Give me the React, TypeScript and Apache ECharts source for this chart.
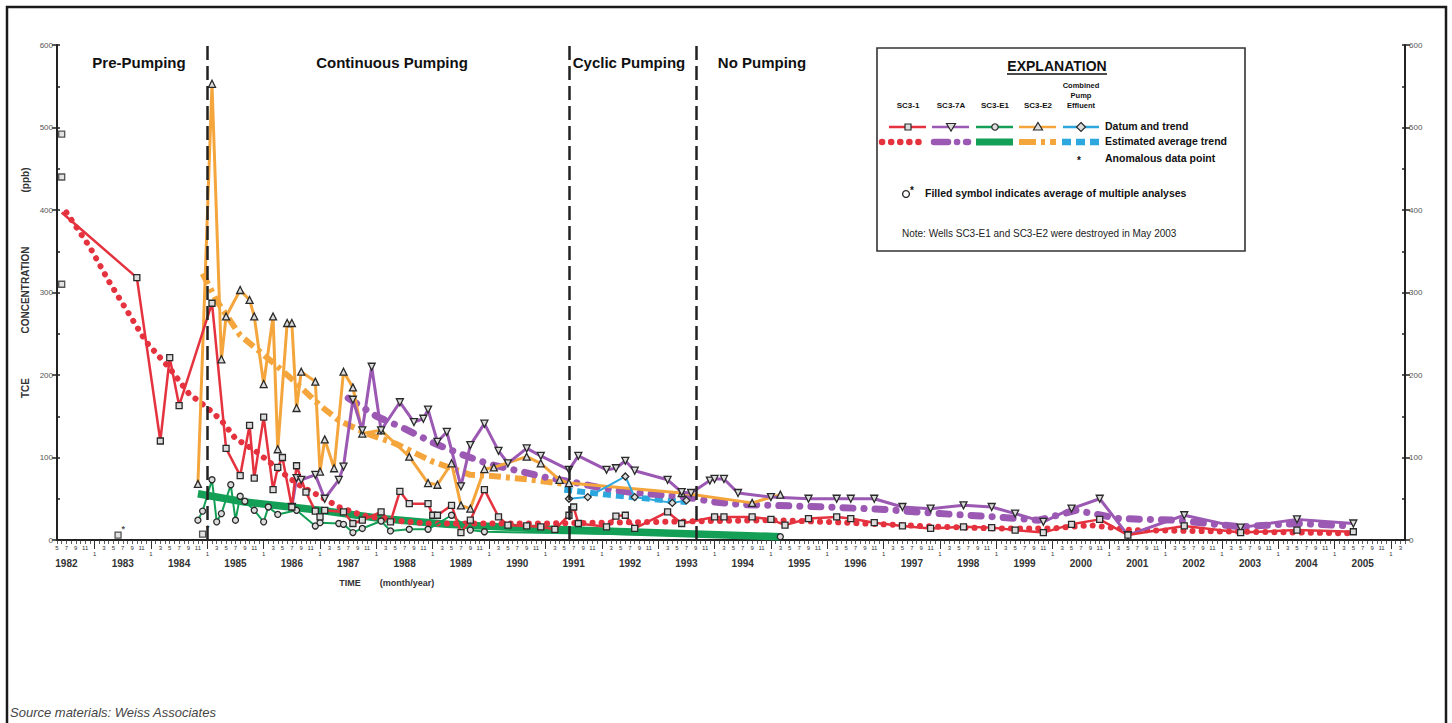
import React, { useEffect, useRef } from 'react';
import * as echarts from 'echarts';

// ---------- axis categories (one per month, May 1982 .. Apr 2006) ----------
const FIRST_MONTH = 4; // months since Jan 1982
const LAST_MONTH = 291;
const months: string[] = [];
for (let m = FIRST_MONTH; m <= LAST_MONTH; m++) {
  const y = 1982 + Math.floor(m / 12);
  const mo = (m % 12) + 1;
  months.push(`${y}-${mo < 10 ? '0' + mo : mo}`);
}
const MONTH_TICK_LABELS = [3, 5, 7, 9, 11];
const JAN_LABEL = '1';
const YEAR_LABEL_MONTH = 7;
const PHASE_LINES = ['1985-01', '1991-06', '1993-09'];

// ---------- data ----------
const sc31Datum: [string, number][] = [
  ['1982-06', 397], ['1983-10', 318], ['1984-03', 120], ['1984-05', 221], ['1984-07', 163],
  ['1985-02', 287], ['1985-05', 111], ['1985-08', 78], ['1985-10', 139], ['1985-11', 75],
  ['1986-01', 149], ['1986-03', 61], ['1986-04', 88], ['1986-05', 100], ['1986-07', 40],
  ['1986-08', 90], ['1986-10', 58], ['1986-12', 35], ['1987-01', 28], ['1987-02', 36],
  ['1987-06', 34], ['1987-08', 20], ['1987-10', 24], ['1988-02', 34], ['1988-04', 22],
  ['1988-06', 59], ['1988-08', 44], ['1988-12', 44], ['1989-01', 30], ['1989-02', 30],
  ['1989-05', 42], ['1989-07', 9], ['1989-09', 24], ['1989-12', 61], ['1990-03', 28],
  ['1990-05', 18], ['1990-09', 17], ['1990-12', 16], ['1991-03', 13], ['1991-06', 30],
  ['1991-07', 40], ['1991-08', 20], ['1992-02', 16], ['1992-04', 29], ['1992-06', 30],
  ['1992-08', 14], ['1993-03', 34], ['1993-06', 20], ['1994-01', 28], ['1994-03', 28],
  ['1994-09', 28], ['1995-01', 25], ['1995-04', 18], ['1995-09', 26], ['1996-03', 28],
  ['1996-06', 26], ['1996-11', 21], ['1997-05', 17], ['1997-11', 14], ['1998-06', 16],
  ['1998-12', 15], ['1999-05', 12], ['1999-11', 9], ['2000-05', 19], ['2000-11', 25],
  ['2001-05', 6], ['2002-05', 17], ['2003-05', 9], ['2004-05', 12], ['2005-05', 10],
];
const sc31Other: [string, number][] = [['1982-06', 492], ['1982-06', 440], ['1982-06', 310]];
const sc31Anomalous: [string, number][] = [['1983-06', 6], ['1984-12', 7]];
const sc31Trend: [string, number][] = [
  ['1982-07', 397], ['1982-12', 355], ['1983-04', 314], ['1983-08', 277], ['1983-12', 240],
  ['1984-05', 208], ['1984-09', 178], ['1985-01', 160], ['1985-04', 145], ['1985-07', 123],
  ['1985-11', 109], ['1986-03', 91], ['1986-06', 77], ['1986-09', 65], ['1987-01', 53],
  ['1987-05', 40], ['1987-10', 30], ['1988-04', 24], ['1988-12', 20], ['1990-01', 20],
  ['1991-01', 20], ['1992-01', 21], ['1993-01', 22], ['1994-01', 23], ['1995-01', 24],
  ['1996-01', 22], ['1997-01', 19], ['1998-01', 16], ['1999-01', 14], ['2000-01', 14],
  ['2000-09', 18], ['2001-06', 12], ['2002-06', 11], ['2003-06', 10], ['2004-06', 9],
  ['2005-05', 8],
];

const sc37aDatum: [string, number][] = [
  ['1986-07', 40], ['1986-08', 75], ['1986-09', 73], ['1986-12', 79], ['1987-02', 50],
  ['1987-05', 73], ['1987-06', 89], ['1987-08', 170], ['1987-10', 133], ['1987-12', 210],
  ['1988-02', 133], ['1988-06', 167], ['1988-09', 143], ['1988-11', 147], ['1988-12', 158],
  ['1989-02', 119], ['1989-04', 131], ['1989-07', 65], ['1989-09', 115], ['1989-12', 141],
  ['1990-03', 108], ['1990-05', 93], ['1990-09', 111], ['1990-12', 102], ['1991-06', 85],
  ['1991-08', 102], ['1992-02', 85], ['1992-04', 87], ['1992-06', 96], ['1992-08', 84],
  ['1993-03', 73], ['1993-06', 58], ['1993-08', 57], ['1993-12', 72], ['1994-01', 74],
  ['1994-03', 74], ['1994-06', 57], ['1995-01', 52], ['1995-09', 50], ['1996-03', 50],
  ['1996-06', 50], ['1996-11', 50], ['1997-05', 40], ['1997-11', 38], ['1998-06', 42],
  ['1998-12', 40], ['1999-05', 32], ['1999-11', 22], ['2000-05', 38], ['2000-11', 50],
  ['2001-05', 6], ['2002-05', 30], ['2003-05', 15], ['2004-05', 25], ['2005-05', 20],
];
const sc37aTrend: [string, number][] = [
  ['1987-07', 172], ['1988-01', 150], ['1988-07', 135], ['1989-01', 118], ['1989-07', 104],
  ['1990-01', 92], ['1990-07', 84], ['1991-01', 76], ['1991-07', 70], ['1992-01', 63],
  ['1992-07', 58], ['1993-01', 55], ['1993-07', 52], ['1994-01', 46], ['1994-07', 43],
  ['1995-01', 42], ['1996-01', 40], ['1997-01', 37], ['1998-01', 32], ['1999-01', 28],
  ['1999-10', 24], ['2000-06', 36], ['2001-03', 26], ['2002-03', 24], ['2003-05', 16],
  ['2004-05', 20], ['2005-05', 17],
];

const sce1Datum: [string, number][] = [
  ['1984-11', 24], ['1984-12', 35], ['1985-02', 73], ['1985-03', 22], ['1985-04', 32],
  ['1985-06', 67], ['1985-07', 24], ['1985-08', 53], ['1985-09', 47], ['1985-11', 36],
  ['1986-01', 22], ['1986-02', 40], ['1986-04', 31], ['1986-08', 36], ['1986-12', 17],
  ['1987-01', 21], ['1987-05', 20], ['1987-06', 19], ['1987-08', 9], ['1987-10', 14],
  ['1988-02', 23], ['1988-04', 11], ['1988-08', 13], ['1988-12', 13], ['1989-05', 30],
  ['1989-09', 12], ['1989-12', 10], ['1995-03', 4],
];
const sce1Trend: [string, number][] = [
  ['1984-11', 56], ['1985-09', 46], ['1987-01', 36], ['1988-02', 26], ['1989-04', 19],
  ['1991-02', 13], ['1992-11', 9], ['1995-03', 4],
];

const sce2Datum: [string, number][] = [
  ['1984-11', 68], ['1985-02', 553], ['1985-04', 219], ['1985-05', 271], ['1985-08', 303],
  ['1985-10', 291], ['1985-11', 271], ['1986-01', 189], ['1986-03', 271], ['1986-04', 110],
  ['1986-06', 263], ['1986-07', 263], ['1986-08', 160], ['1986-09', 204], ['1986-12', 192],
  ['1987-01', 83], ['1987-02', 122], ['1987-04', 87], ['1987-06', 204], ['1987-08', 185],
  ['1987-10', 129], ['1988-02', 133], ['1988-08', 101], ['1988-12', 69], ['1989-02', 67],
  ['1989-05', 93], ['1989-07', 42], ['1989-09', 38], ['1989-12', 86], ['1990-02', 88],
  ['1990-09', 101], ['1990-12', 93], ['1991-04', 73], ['1991-06', 69], ['1993-06', 57],
  ['1994-09', 45], ['1995-03', 55],
];
const sce2Trend: [string, number][] = [
  ['1984-12', 323], ['1985-03', 290], ['1985-08', 248], ['1986-03', 215], ['1986-08', 190],
  ['1987-01', 163], ['1987-05', 145], ['1987-11', 129], ['1988-05', 117], ['1989-01', 95],
  ['1989-09', 79], ['1990-01', 78], ['1990-10', 73], ['1991-05', 68],
];

const pumpDatum: [string, number][] = [
  ['1991-06', 50], ['1991-10', 52], ['1992-06', 77], ['1992-08', 52], ['1993-04', 45], ['1993-07', 48],
];
const pumpTrend: [string, number][] = [
  ['1991-05', 61], ['1992-02', 55], ['1992-09', 51], ['1993-07', 46],
];

// ---------- styling ----------
const RED = '#e5323f';
const PURPLE = '#9b59b3';
const GREEN = '#149f57';
const ORANGE = '#f4a63d';
const CYAN = '#2ca8df';
const FONT = '"Liberation Sans", Arial, Helvetica, sans-serif';
const TRI_DOWN = 'path://M0,0L10,0L5,9Z';
const markerStyle = { color: '#dcdcdc', borderColor: '#2a2a2a', borderWidth: 1.3 };

const monthOf = (v: string) => parseInt(v.slice(5), 10);

function datumSeries(name: string, data: any[], color: string, symbol: string, size: number, width: number) {
  return {
    type: 'line', name, data, symbol, symbolSize: size, showSymbol: true, showAllSymbol: true,
    lineStyle: { color, width }, itemStyle: markerStyle, z: 3, animation: false,
  };
}
function trendSeries(name: string, data: [string, number][], color: string, width: number, type: any, cap: string) {
  return {
    type: 'line', name, data, symbol: 'none', silent: true,
    lineStyle: { color, width, type, cap, join: 'round' }, z: 2, animation: false,
  };
}

function txt(text: string, x: number, y: number, font: string, align = 'left', fill = '#111', rotation = 0) {
  return {
    type: 'text', x, y, rotation, silent: true, z: 20,
    style: { text, font, fill, textAlign: align, textVerticalAlign: 'middle', verticalAlign: 'middle' },
  };
}
function hline(x1: number, x2: number, y: number, stroke: string, lineWidth: number, lineDash?: number[], lineCap = 'butt') {
  return {
    type: 'line', silent: true, z: 20,
    shape: { x1, y1: y, x2, y2: y },
    style: { stroke, lineWidth, lineDash, lineCap },
  };
}
const mk = { fill: '#dcdcdc', stroke: '#2a2a2a', lineWidth: 1.2 };
function legendGraphics() {
  const y1 = 127;
  const y2 = 142;
  const g: any[] = [];
  g.push({ type: 'rect', silent: true, z: 15, shape: { x: 877, y: 48, width: 368, height: 203 }, style: { fill: '#ffffff', stroke: '#333', lineWidth: 1.6 } });
  g.push(txt('EXPLANATION', 1057, 66, `bold 14px ${FONT}`, 'center'));
  g.push(hline(1007, 1107, 74, '#111', 1.4));
  const hdr = `bold 8px ${FONT}`;
  g.push(txt('SC3-1', 908, 105, hdr, 'center'));
  g.push(txt('SC3-7A', 951, 105, hdr, 'center'));
  g.push(txt('SC3-E1', 995, 105, hdr, 'center'));
  g.push(txt('SC3-E2', 1038, 105, hdr, 'center'));
  const hdr2 = `bold 7.5px ${FONT}`;
  g.push(txt('Combined', 1081, 85, hdr2, 'center'));
  g.push(txt('Pump', 1081, 95, hdr2, 'center'));
  g.push(txt('Effluent', 1081, 105, hdr2, 'center'));
  // datum row
  g.push(hline(889, 926, y1, RED, 2.5));
  g.push({ type: 'rect', silent: true, z: 21, shape: { x: 905, y: y1 - 3, width: 6, height: 6 }, style: mk });
  g.push(hline(932, 969, y1, PURPLE, 2.5));
  g.push({ type: 'polygon', silent: true, z: 21, shape: { points: [[946.5, y1 - 3.5], [955.5, y1 - 3.5], [951, y1 + 4]] }, style: mk });
  g.push(hline(976, 1013, y1, GREEN, 2.5));
  g.push({ type: 'circle', silent: true, z: 21, shape: { cx: 995, cy: y1, r: 3.2 }, style: mk });
  g.push(hline(1019, 1056, y1, ORANGE, 2.5));
  g.push({ type: 'polygon', silent: true, z: 21, shape: { points: [[1038, y1 - 4.5], [1042.5, y1 + 3], [1033.5, y1 + 3]] }, style: mk });
  g.push(hline(1063, 1099, y1, CYAN, 2.5));
  g.push({ type: 'polygon', silent: true, z: 21, shape: { points: [[1081, y1 - 4.5], [1085.5, y1], [1081, y1 + 4.5], [1076.5, y1]] }, style: mk });
  g.push(txt('Datum and trend', 1105, y1 - 1, `bold 10.5px ${FONT}`));
  // estimated row
  g.push(hline(882, 925, y2, RED, 6.5, [0.1, 9], 'round'));
  g.push(hline(934, 968, y2, PURPLE, 6.5, [14, 9, 0.1, 9], 'round'));
  g.push(hline(976, 1013, y2, GREEN, 7));
  g.push(hline(1019, 1056, y2, ORANGE, 6, [17, 5, 4, 5]));
  g.push(hline(1062, 1100, y2, CYAN, 6.5, [9, 5]));
  g.push(txt('Estimated average trend', 1105, y2 - 1, `bold 10.5px ${FONT}`));
  g.push(txt('*', 1079, 160, `bold 10px ${FONT}`, 'center'));
  g.push(txt('Anomalous data point', 1105, 158, `bold 10.5px ${FONT}`));
  g.push({ type: 'circle', silent: true, z: 21, shape: { cx: 906, cy: 194, r: 3.4 }, style: { fill: 'none', stroke: '#222', lineWidth: 1.3 } });
  g.push(txt('*', 912, 190, `bold 10px ${FONT}`, 'center'));
  g.push(txt('Filled symbol indicates average of multiple analyses', 925, 193, `bold 10.5px ${FONT}`));
  g.push(txt('Note: Wells SC3-E1 and SC3-E2 were destroyed in May 2003', 902, 233, `10px ${FONT}`, 'left', '#222'));
  return g;
}

export default function App() {
  const ref = useRef<HTMLDivElement>(null);
  useEffect(() => {
    if (!ref.current) return;
    const chart = echarts.init(ref.current, undefined, { renderer: 'svg' });
    const baseCat = { type: 'category', data: months, boundaryGap: false, position: 'bottom', splitLine: { show: false } };
    // the SC3-1 trend line starts at an unmarked estimate
    const sc31Items = sc31Datum.map((d, i) => (i === 0 ? { value: d, symbol: 'none' } : d));
    const option: any = {
      animation: false,
      backgroundColor: '#ffffff',
      grid: { left: 57, right: 47, top: 45, bottom: 183, containLabel: false },
      xAxis: [
        {
          ...baseCat,
          axisLine: { show: true, lineStyle: { color: '#222', width: 2 } },
          axisTick: { show: true, interval: 0, length: 4, lineStyle: { color: '#333', width: 0.8 } },
          axisLabel: {
            interval: (_i: number, v: string) => MONTH_TICK_LABELS.includes(monthOf(v)),
            formatter: (v: string) => String(monthOf(v)),
            fontSize: 6, color: '#333', margin: 5, fontFamily: FONT,
          },
        },
        {
          ...baseCat,
          axisLine: { show: false },
          axisTick: { show: true, interval: (_i: number, v: string) => monthOf(v) === 1, length: 9, lineStyle: { color: '#333', width: 1 } },
          axisLabel: {
            interval: (_i: number, v: string) => monthOf(v) === 1,
            formatter: () => JAN_LABEL,
            fontSize: 6, color: '#333', margin: 11, fontFamily: FONT,
          },
        },
        {
          ...baseCat,
          axisLine: { show: false },
          axisTick: { show: false },
          axisLabel: {
            interval: (_i: number, v: string) => monthOf(v) === YEAR_LABEL_MONTH,
            formatter: (v: string) => v.slice(0, 4),
            fontSize: 10, fontWeight: 'bold', color: '#333', margin: 18, fontFamily: FONT,
          },
        },
      ],
      yAxis: [
        {
          type: 'value', position: 'left', min: 0, max: 600, interval: 100,
          axisLine: { show: true, lineStyle: { color: '#222', width: 2 } },
          axisTick: { show: true, length: 5, lineStyle: { color: '#222', width: 1.5 } },
          axisLabel: { fontSize: 8, color: '#555', margin: 4, fontFamily: FONT },
          splitLine: { show: false },
        },
        {
          type: 'value', position: 'right', min: 0, max: 600, interval: 100,
          axisLine: { show: true, lineStyle: { color: '#222', width: 2 } },
          axisTick: { show: true, length: 5, lineStyle: { color: '#222', width: 1.5 } },
          axisLabel: { fontSize: 8, color: '#555', margin: 4, fontFamily: FONT },
          splitLine: { show: false },
        },
        {
          type: 'value', position: 'left', min: 0, max: 600, interval: 50,
          axisLine: { show: false }, axisLabel: { show: false }, splitLine: { show: false },
          axisTick: { show: true, inside: true, length: 3, lineStyle: { color: '#222', width: 1.5 } },
        },
        {
          type: 'value', position: 'right', min: 0, max: 600, interval: 50,
          axisLine: { show: false }, axisLabel: { show: false }, splitLine: { show: false },
          axisTick: { show: true, inside: true, length: 3, lineStyle: { color: '#222', width: 1.5 } },
        },
      ],
      series: [
        trendSeries('SC3-E1 estimated average trend', sce1Trend, GREEN, 7.5, 'solid', 'butt'),
        trendSeries('SC3-E2 estimated average trend', sce2Trend, ORANGE, 6, [12, 5, 4, 5], 'butt'),
        trendSeries('Combined Pump Effluent estimated average trend', pumpTrend, CYAN, 6, [8, 5], 'butt'),
        trendSeries('SC3-7A estimated average trend', sc37aTrend, PURPLE, 7, [10, 11, 0.1, 11], 'round'),
        trendSeries('SC3-1 estimated average trend', sc31Trend, RED, 6, [0.1, 9], 'round'),
        datumSeries('SC3-E1', sce1Datum, GREEN, 'circle', 6, 2),
        datumSeries('SC3-E2', sce2Datum, ORANGE, 'triangle', 7, 3),
        datumSeries('SC3-7A', sc37aDatum, PURPLE, TRI_DOWN, 7, 3),
        datumSeries('Combined Pump Effluent', pumpDatum, CYAN, 'diamond', 7, 2),
        {
          ...datumSeries('SC3-1', sc31Items, RED, 'rect', 6, 2.5),
          markLine: {
            silent: true, symbol: 'none', label: { show: false },
            lineStyle: { color: '#222', width: 2.5, type: [14, 6] },
            data: PHASE_LINES.map((m) => ({ xAxis: m })),
          },
        },
        {
          type: 'scatter', name: 'SC3-1 other samples', data: sc31Other, symbol: 'rect', symbolSize: 6,
          itemStyle: markerStyle, z: 4,
        },
        {
          type: 'scatter', name: 'SC3-1 anomalous', data: sc31Anomalous, symbol: 'rect', symbolSize: 6,
          itemStyle: markerStyle, z: 4,
          label: { show: true, formatter: '*', position: [7, -7], fontSize: 9, color: '#222', fontWeight: 'bold' },
        },
      ],
      graphic: [
        { type: 'rect', silent: true, z: 0, shape: { x: 7, y: 7, width: 1439, height: 760 }, style: { fill: 'none', stroke: '#1a1a1a', lineWidth: 2.5 } },
        txt('Pre-Pumping', 139, 62, `bold 15px ${FONT}`, 'center'),
        txt('Continuous Pumping', 392, 62, `bold 15px ${FONT}`, 'center'),
        txt('Cyclic Pumping', 629, 62, `bold 15px ${FONT}`, 'center'),
        txt('No Pumping', 762, 62, `bold 15px ${FONT}`, 'center'),
        txt('TCE', 25, 388, `bold 10px ${FONT}`, 'center', '#333', Math.PI / 2),
        txt('CONCENTRATION', 25, 290, `bold 10px ${FONT}`, 'center', '#333', Math.PI / 2),
        txt('(ppb)', 25, 180, `bold 10px ${FONT}`, 'center', '#333', Math.PI / 2),
        txt('TIME', 350, 583, `bold 9px ${FONT}`, 'center', '#333'),
        txt('(month/year)', 407, 583, `bold 9px ${FONT}`, 'center', '#333'),
        txt('Source materials: Weiss Associates', 10, 712, `italic 13px ${FONT}`, 'left', '#444'),
        ...legendGraphics(),
      ],
    };
    chart.setOption(option);
    return () => chart.dispose();
  }, []);
  return (
    <div
      ref={ref}
      style={{ position: 'fixed', left: 0, top: 0, width: 1452, height: 723, background: '#fff' }}
    />
  );
}
